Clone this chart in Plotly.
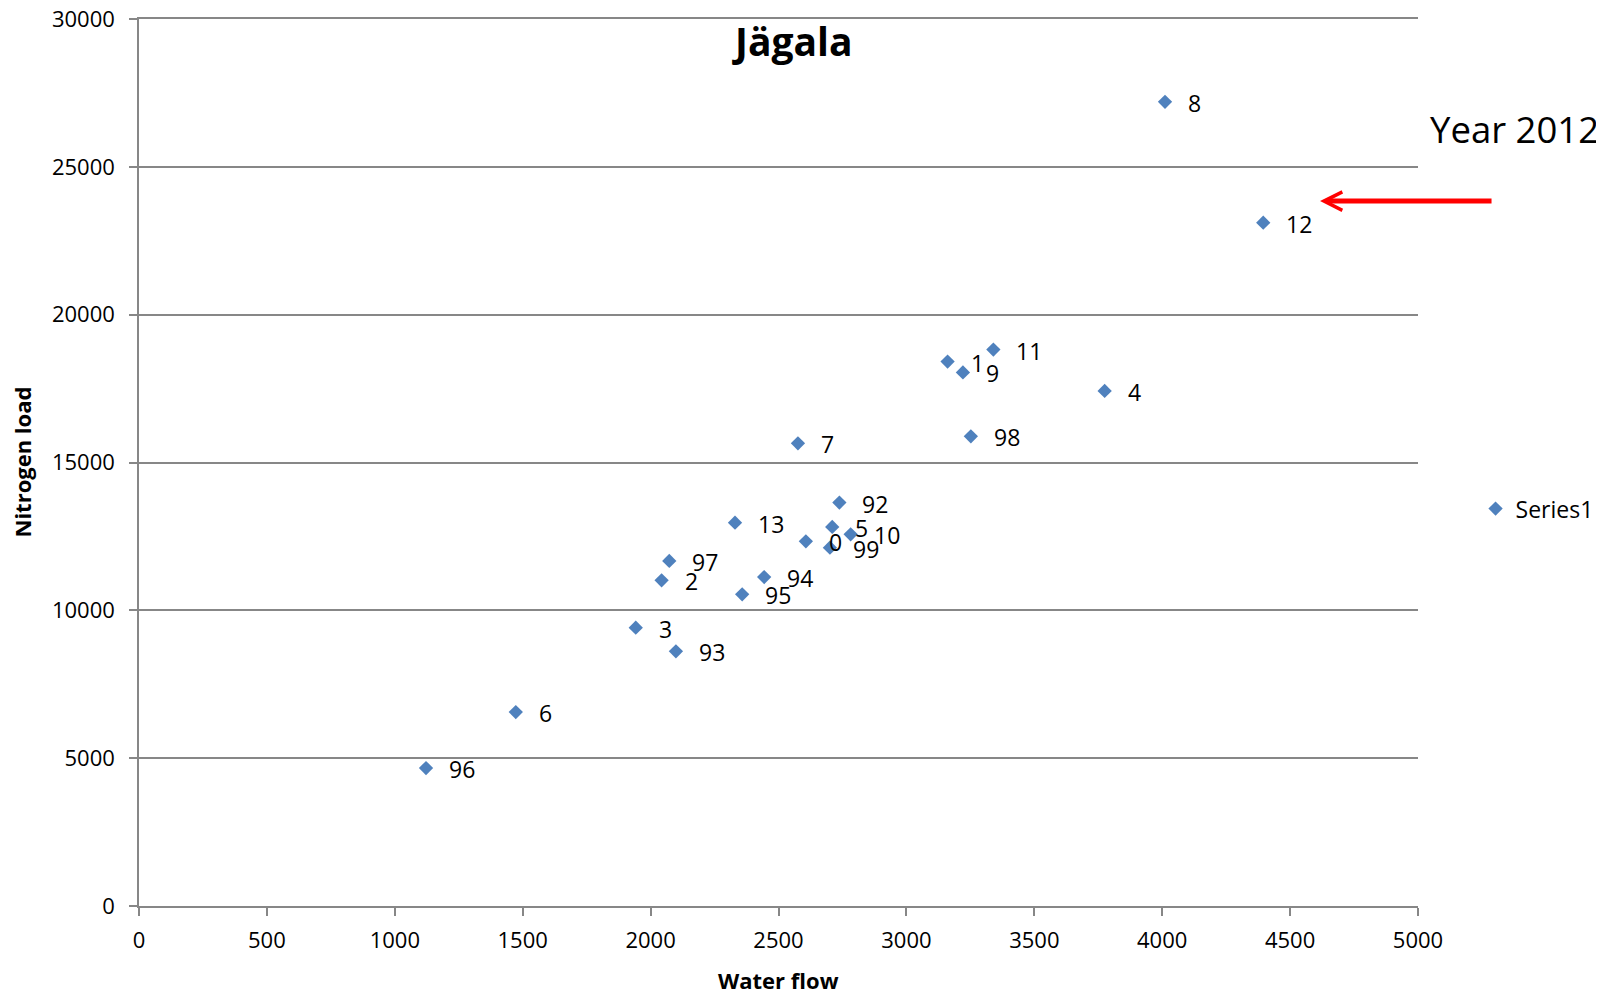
import plotly.graph_objects as go

# Data: water flow vs nitrogen load, labelled by year
years = ["8", "12", "11", "1", "9", "4", "98", "7", "92", "13", "5", "10", "0", "99",
         "97", "2", "94", "95", "3", "93", "6", "96"]
water_flow = [4011, 4395, 3340, 3161, 3221, 3775, 3252, 2576, 2738, 2330, 2710, 2782, 2607, 2701,
              2073, 2043, 2444, 2358, 1942, 2099, 1473, 1122]
nitrogen_load = [27200, 23110, 18820, 18415, 18045, 17420, 15885, 15650, 13645, 12965, 12820, 12570,
                 12335, 12120, 11670, 11015, 11125, 10540, 9415, 8612, 6558, 4665]

FONT = "Open Sans"
GRAY = "#878787"
BLUE = "#4F81BD"

fig = go.Figure()
fig.add_trace(go.Scatter(
    x=water_flow, y=nitrogen_load, mode="markers", name="Series1",
    marker=dict(symbol="diamond", size=11, color=BLUE, line=dict(width=0)),
    hoverinfo="x+y",
))

annotations = []
for xv, yv, lab in zip(water_flow, nitrogen_load, years):
    annotations.append(dict(x=xv, y=yv, xref="x", yref="y", text=lab, showarrow=False,
                            xanchor="left", yanchor="middle", xshift=21, yshift=-1,
                            font=dict(family=FONT, size=23, color="black")))

# Title
annotations.append(dict(x=0.511, y=1, xref="paper", yref="paper", text="<b>Jägala</b>",
                        showarrow=False, xanchor="center", yanchor="middle", yshift=-21,
                        font=dict(family=FONT, size=39, color="black")))
# Axis titles
annotations.append(dict(x=0.5, y=0, xref="paper", yref="paper", text="<b>Water flow</b>",
                        showarrow=False, xanchor="center", yanchor="middle", yshift=-74,
                        font=dict(family=FONT, size=22, color="black")))
annotations.append(dict(x=0, y=0.5, xref="paper", yref="paper", text="<b>Nitrogen load</b>",
                        showarrow=False, xanchor="center", yanchor="middle", xshift=-118,
                        textangle=-90, font=dict(family=FONT, size=22, color="black")))
# Year 2012 note
annotations.append(dict(x=1.008, y=0.8755, xref="paper", yref="paper", text="Year 2012",
                        showarrow=False, xanchor="left", yanchor="middle",
                        font=dict(family=FONT, size=36.5, color="black")))
# Red arrow
annotations.append(dict(x=0.9234, y=0.7947, xref="paper", yref="paper", text="",
                        showarrow=True, ax=173, ay=0, arrowhead=5, arrowwidth=5,
                        arrowsize=0.72, arrowcolor="#FF0000", standoff=0))

fig.update_layout(
    width=1596, height=986,
    margin=dict(l=131, r=186, t=11, b=88, autoexpand=False),
    paper_bgcolor="white", plot_bgcolor="white",
    font=dict(family=FONT, size=22, color="black"),
    showlegend=True,
    legend=dict(x=1.045, y=0.448, xanchor="left", yanchor="middle",
                font=dict(family=FONT, size=23, color="black"),
                bgcolor="rgba(0,0,0,0)"),
    annotations=annotations,
)
fig.update_xaxes(range=[0, 5000], dtick=500, tick0=0, showgrid=False, zeroline=False,
                 showline=True, mirror=True, linecolor=GRAY, linewidth=1.5, automargin=False,
                 ticks="outside", ticklen=8, tickcolor=GRAY, tickwidth=1.5, tickformat="d",
                 ticklabeloverflow="allow",
                 ticklabelstandoff=6, tickfont=dict(family=FONT, size=22, color="black"))
fig.update_yaxes(range=[0, 30000], dtick=5000, tick0=0, showgrid=True, gridcolor=GRAY,
                 gridwidth=1.5, zeroline=False, automargin=False,
                 showline=True, linecolor=GRAY, linewidth=1.5, tickformat="d",
                 ticks="outside", ticklen=8, tickcolor=GRAY, tickwidth=1.5,
                 ticklabeloverflow="allow",
                 ticklabelstandoff=10, tickfont=dict(family=FONT, size=22, color="black"))

fig.write_html("out.html")
